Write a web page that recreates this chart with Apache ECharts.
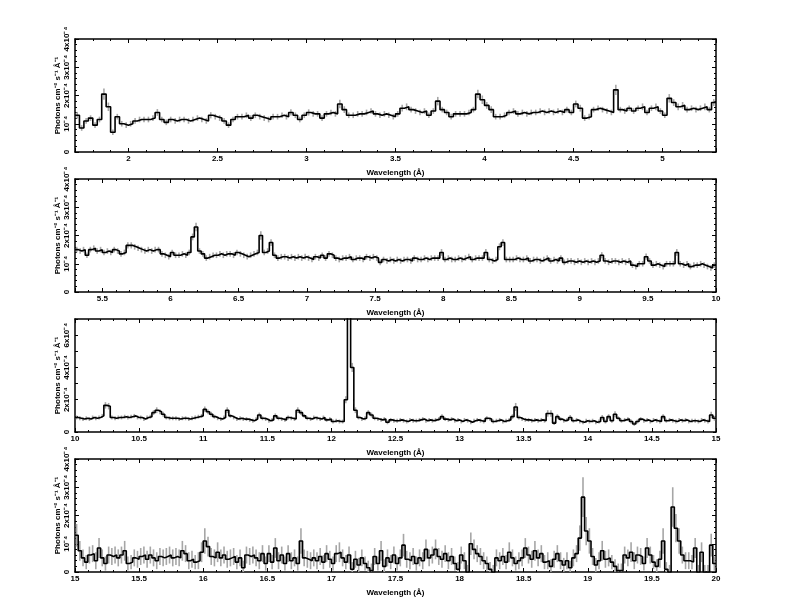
<!DOCTYPE html>
<html><head><meta charset="utf-8">
<script src="https://cdn.jsdelivr.net/npm/echarts@6/dist/echarts.min.js"></script>
<style>html,body{margin:0;padding:0;background:#fff}#c{width:792px;height:612px}</style>
</head><body><div id="c"></div>
<script>
// ---------------- DATA (flux in units of 1e-5 photons cm^-2 s^-1 Å^-1) ----------------
const binWidth = 0.025;
const xTitle = 'Wavelength (Å)';
const yTitle = 'Photons cm⁻² s⁻¹ Å⁻¹';

const p1Range = [1.7, 5.3];
const p1Flux = [
 13,8.5,11,12,9.5,11.5,20.5,16,7,12.5,10,9.5,
 10,11,11.5,11.5,11.5,12,14,11.5,10.5,11.5,11,11.5,
 11.5,11,11.5,12,11.5,11,13,12.5,12,11,9.5,11.5,
 12.5,12.5,13,12,13,12.5,12,11.5,12.5,12.5,13,12.5,
 14,13,11.5,13,14,13.5,13.5,12,13.5,14,13.5,17,
 15,13,13,13.5,13.5,14,14.5,13.5,13,13.5,13,12.5,
 13.5,15.5,16,15,14.5,14,14.5,13,14.5,18,15,14,
 12.5,13.5,13.5,13.5,14,15,20.5,18.5,16.5,15,12.5,12.5,
 13,14,14.5,13.5,14,13.5,14,14,14.5,14,14.5,14,
 14.5,14,15,14,17,15.5,12,12.5,15,15.5,15,14.5,
 14,22,15,14.5,15.5,14.5,15.5,16,14,15.5,16,14.5,
 13,19,17.5,16,16.5,15,15.5,15,15.5,16,15,17.5
];
const p1Err = [
 1.2,1,1,1,1,1,2,1.5,1,1,1,1,
 1,1,1,1,1,1,1.2,1,1,1,1,1,
 1,1,1,1,1,1,1.1,1,1,1,1,1,
 1,1,1,1,1,1,1,1,1,1,1,1,
 1.1,1,1,1,1.1,1,1,1,1,1,1,1.5,
 1.2,1,1,1,1,1,1,1,1,1,1,1,
 1,1.2,1.2,1,1,1,1,1,1,1.5,1,1,
 1,1,1,1,1,1,1.5,1.5,1.2,1.2,1,1,
 1,1,1,1,1,1,1,1,1,1,1,1,
 1,1,1,1,1.2,1.2,1,1,1,1,1,1,
 1,1.8,1,1,1,1,1,1.2,1,1,1.2,1,
 1,1.5,1.2,1.2,1.2,1,1,1,1,1.2,1,1.2
];

const p2Range = [5.3, 10];
const p2Flux = [
 15,14.5,15,13,15,15.5,14.5,15,14,14.5,
 14,15,14.5,13.5,14,16.5,16.5,16,15.5,15,
 14.5,15,14.5,15,15,13.5,13,12.5,14,13,
 13,13.5,13,14,19.5,23,14.5,13.5,12,12.5,
 13,13,13.5,13,13.5,13.5,13,14,13.5,13,
 12.5,13,13.5,14,20,14,14.5,17.5,13,12,
 12.5,12.5,12,12.5,12,12.5,12,12.5,12,11.5,
 12.5,12,13,12,13.5,13,12,11.5,12,12,
 12.5,11.5,12,12,11.5,12.5,12,12.5,12,10.5,
 11.5,11,11.5,11,11.5,11,11.5,11.5,11,12,
 11.5,11.5,12,11.5,12,12,12,14,11.5,12,
 11.5,11.5,12,11.5,12,12.5,11.5,12,12,12,
 14,11.5,11,11.5,16,17.5,11.5,11.5,11.5,12,
 11.5,11.5,12,11,11.5,11.5,11,11.5,12,11,
 11.5,11,12,10.5,11,11,10.5,11,10.5,11,
 10.5,11,10.5,11,13,11,10.5,11,11,10.5,
 11,10.5,11,9.5,9,10,10,12.5,11,9.5,
 10,9.5,9,10,10,10,14,10,9.5,10,
 9,9.5,9.5,10,9.5,9,8.5,9.5
];
const p2Err = [
 1,1,1,1,1,1,1,1,1,1,
 1,1,1,1,1,1.1,1.1,1,1,1,
 1,1,1,1,1,1,1,1,1,1,
 1,1,1,1,1.2,1.5,1,1,1,1,
 1,1,1,1,1,1,1,1,1,1,
 1,1,1,1,1.5,1,1,1.2,1,1,
 1,1,1,1,1,1,1,1,1,1,
 1,1,1,1,1,1,1,1,1,1,
 1,1,1,1,1,1,1,1,1,1,
 1,1,1,1,1,1,1,1,1,1,
 1,1,1,1,1,1,1,1.2,1,1,
 1,1,1,1,1,1,1,1,1,1,
 1.2,1,1,1,1.2,1.2,1,1,1,1,
 1,1,1,1,1,1,1,1,1,1,
 1,1,1,1,1,1,1,1,1,1,
 1,1,1,1,1.1,1,1,1,1,1,
 1,1,1,1,1,1,1,1.1,1,1,
 1,1,1,1,1,1,1.2,1,1,1,
 1,1,1,1,1,1,1,1
];

const p3Range = [10, 15];
const p3Flux = [
 9,8.5,8,8.5,8,9,8.5,9,10,16.5,
 16,9,8.5,9,9,9.5,9,9.5,10,9,
 9,8,9,9.5,12,13.5,12.5,11,9,8.5,
 8.5,8.5,8,8.5,8.5,8,8.5,9,9.5,10,
 14,12.5,11,9.5,8.5,8,9,13.5,10,9,
 8,8.5,8,8,7.5,7,8,10.5,8.5,8,
 7,7.5,10,8.5,8,7.5,9,8.5,8,13.5,
 12,10,8.5,8,9,8.5,8,9,7.5,8,
 6.5,7,6.5,6.5,20,80,40,13.5,9,8,
 8.5,12,10.5,8.5,8,7.5,8,6,7.5,7,
 7,7.5,7,6.5,7.5,7,7,7.5,8,7,
 7.5,7,7.5,8,9.5,8,7.5,8,7,7.5,
 6.5,7.5,7,6,7,7.5,7,6.5,8.5,8,
 6.5,7,7.5,6.5,7,7.5,9.5,15.5,9,8,
 7.5,7.5,7,7.5,7,7.5,7,11.5,11.5,5.5,
 9.5,8,7,7.5,9,7,7.5,6.5,6,7,
 6.5,7,6,6.5,9,6.5,9.5,7,11,8.5,
 7,7.5,8,6.5,5,6.5,8,7,7.5,6.5,
 7.5,7,6.5,9.5,7,7.5,7,6.5,7.5,7,
 7.5,6.5,7,7,6.5,7.5,7,6.5,10.5,8.5
];
const p3Err = [
 1.2,1.2,1.2,1.2,1.2,1.2,1.2,1.2,1.2,2,
 2,1.2,1.2,1.2,1.2,1.2,1.2,1.2,1.2,1.2,
 1.2,1.2,1.2,1.2,1.5,1.8,1.5,1.5,1.2,1.2,
 1.2,1.2,1.2,1.2,1.2,1.2,1.2,1.2,1.2,1.2,
 1.8,1.5,1.5,1.2,1.2,1.2,1.2,1.8,1.2,1.2,
 1.2,1.2,1.2,1.2,1.2,1.2,1.2,1.5,1.2,1.2,
 1.2,1.2,1.5,1.2,1.2,1.2,1.2,1.2,1.2,1.8,
 1.5,1.2,1.2,1.2,1.2,1.2,1.2,1.2,1.2,1.2,
 1.2,1.2,1.2,1.2,2.2,3.5,2.8,1.8,1.2,1.2,
 1.2,1.5,1.5,1.2,1.2,1.2,1.2,1.2,1.2,1.2,
 1.2,1.2,1.2,1.2,1.2,1.2,1.2,1.2,1.2,1.2,
 1.2,1.2,1.2,1.2,1.5,1.2,1.2,1.2,1.2,1.2,
 1.2,1.2,1.2,1.2,1.2,1.2,1.2,1.2,1.2,1.2,
 1.2,1.2,1.2,1.2,1.2,1.2,1.5,2.5,1.2,1.2,
 1.2,1.2,1.2,1.2,1.2,1.2,1.2,2,2,1.2,
 1.5,1.2,1.2,1.2,1.5,1.2,1.2,1.2,1.2,1.2,
 1.2,1.2,1.2,1.2,1.5,1.2,1.5,1.2,1.8,1.2,
 1.2,1.2,1.2,1.2,1.2,1.2,1.2,1.2,1.2,1.2,
 1.2,1.2,1.2,1.5,1.2,1.2,1.2,1.2,1.2,1.2,
 1.2,1.2,1.2,1.2,1.2,1.2,1.2,1.2,2,1.5
];

const p4Range = [15, 20];
const p4Flux = [
 13,7.5,5,3.5,6,6.5,4,8.5,5,3,
 6,5.5,6,5,6,7.5,3,3.5,5,4.5,
 5.5,6,4.5,6,5,4,5.5,5,5.5,6,
 5,5.5,5,7.5,6.5,4,4.5,3.5,4,7,
 11,9,5.5,5,7,5,6,4.5,5,5.5,
 3.5,5,1.5,6,5.5,6,5,4,6.5,3,
 6.5,3.5,8.5,4,6,3,6.5,4,5,3,
 11,5,4.5,4,5,4,5.5,3.5,6.5,4.5,
 3,6.5,7,5,3.5,6,1,4.5,2.5,5,
 3,1.5,0.5,5.5,3,7.5,2,5,3.5,6,
 3,5,9.5,4.5,4,5.5,3,5,4,8,
 5,6,8,5.5,4.5,6.5,4,5.5,3,1,
 6,4,0,10,8,6.5,5.5,4,3,1,
 0,5,4,5.5,3.5,7,5,3,4,5,
 8.5,6,4.5,7.5,5,6.5,3.5,4,2,4.5,
 6.5,4,2.5,4,1.5,5,6.5,12,26.5,14.5,
 11,5.5,2.5,4,7.5,4.5,5,3.5,2,0.5,
 0.5,6,5,7,4,6,5.5,3,8.5,6,
 3.5,2,4.5,11,1,0,23,15.5,11,6,
 4,4,3.5,8.5,0,7,0,0,9.5,3
];
const p4Err = [
 4,3.5,3,2.5,3,3,3,3.5,3,2.5,
 3,3,3,3,3,3.5,2.5,2.5,3,3,
 3,3,3,3,3,3,3,3,3,3,
 3,3,3,3.5,3,3,3,2.5,3,3.5,
 4.5,3.5,3,3,3.5,3,3,3,3,3,
 2.5,3,2.5,3,3,3,3,3,3,2.5,
 3,2.5,3.5,3,3,2.5,3,3,3,2.5,
 4.5,3,3,3,3,3,3,2.5,3,3,
 2.5,3,3.5,3,2.5,3,2.5,3,2.5,3,
 2.5,2.5,2.5,3,2.5,3.5,2.5,3,2.5,3,
 2.5,3,4,3,3,3,2.5,3,3,3.5,
 3,3,3.5,3,3,3,3,3,2.5,2.5,
 3,3,2.5,4,3.5,3,3,3,2.5,2.5,
 2.5,3,3,3,2.5,3.5,3,2.5,3,3,
 3.5,3,3,3.5,3,3,2.5,3,2.5,3,
 3,3,2.5,3,2.5,3,3,4.5,7,5,
 4.5,3,2.5,3,3.5,3,3,2.5,2.5,2.5,
 2.5,3,3,3.5,3,3,3,2.5,3.5,3,
 2.5,2.5,3,4.5,2.5,2.5,7,5,4.5,3,
 3,3,2.5,3.5,2.5,3.5,2.5,2.5,4,2.5
];

// y tick labels (value in 1e-5 units -> label)
const yLabels4 = {0:'0', 10:'10⁻⁴', 20:'2x10⁻⁴', 30:'3x10⁻⁴', 40:'4x10⁻⁴'};
const yLabels7 = {0:'0', 20:'2x10⁻⁴', 40:'4x10⁻⁴', 60:'6x10⁻⁴'};
const yMaxes = [40, 40, 70, 40];

// ---------------- LAYOUT / STYLE ----------------
const gridTops = [39, 179, 319, 459];
const gridLeft = 75, gridWidth = 641, gridHeight = 113;
const FONT = 'Liberation Sans';
const ERR_COLOR = '#a6a6a6';

const panels = [
  {range: p1Range, flux: p1Flux, err: p1Err, labels: yLabels4, minor: true},
  {range: p2Range, flux: p2Flux, err: p2Err, labels: yLabels4, minor: true},
  {range: p3Range, flux: p3Flux, err: p3Err, labels: yLabels7, minor: false},
  {range: p4Range, flux: p4Flux, err: p4Err, labels: yLabels4, minor: true}
];

const grid = [], xAxis = [], yAxis = [], series = [];
const axisLine = {show: true, lineStyle: {color: '#000', width: 1.5}};
const labelStyle = {color: '#000', fontFamily: FONT, fontSize: 8, fontWeight: 'bold'};

function xFmt(v) {
  const r = Math.round(v * 2) / 2;
  if (Math.abs(v - r) > 1e-6) return '';
  return String(+r.toFixed(1));
}

panels.forEach((p, g) => {
  const [xmin, xmax] = p.range;
  const yMax = yMaxes[g];
  grid.push({left: gridLeft, top: gridTops[g], width: gridWidth, height: gridHeight, containLabel: false});
  const split = Math.round((xmax - xmin) / 0.5);
  const base = {type: 'value', gridIndex: g, min: xmin, max: xmax, splitLine: {show: false}};
  xAxis.push(Object.assign({}, base, {
    position: 'bottom', splitNumber: split,
    axisLine: axisLine,
    axisTick: {show: true, inside: true, length: 4, lineStyle: {color: '#000', width: 1}},
    axisLabel: Object.assign({margin: 3, formatter: xFmt, showMinLabel: true, showMaxLabel: true}, labelStyle),
    name: xTitle, nameLocation: 'middle', nameGap: 17, nameMoveOverlap: false,
    nameTextStyle: Object.assign({}, labelStyle)
  }));
  xAxis.push(Object.assign({}, base, {
    position: 'bottom', interval: 0.1,
    axisLine: {show: false},
    axisTick: {show: true, inside: true, length: 2, lineStyle: {color: '#000', width: 1}},
    axisLabel: {show: false}
  }));
  xAxis.push(Object.assign({}, base, {
    position: 'top', splitNumber: split,
    axisLine: axisLine,
    axisTick: {show: true, inside: true, length: 4, lineStyle: {color: '#000', width: 1}},
    axisLabel: {show: false}
  }));
  xAxis.push(Object.assign({}, base, {
    position: 'top', interval: 0.1,
    axisLine: {show: false},
    axisTick: {show: true, inside: true, length: 2, lineStyle: {color: '#000', width: 1}},
    axisLabel: {show: false}
  }));

  const ybase = {type: 'value', gridIndex: g, min: 0, max: yMax, interval: 10, splitLine: {show: false},
    axisLine: axisLine,
    axisTick: {show: true, inside: true, length: p.minor ? 4 : 3, lineStyle: {color: '#000', width: 1}},
    minorTick: {show: p.minor, splitNumber: 5, length: 2, lineStyle: {color: '#000', width: 1}}};
  yAxis.push(Object.assign({}, ybase, {
    position: 'left',
    axisLabel: Object.assign({rotate: 90, margin: 4, showMinLabel: true, showMaxLabel: true,
      formatter: v => (p.labels[Math.round(v)] !== undefined && Math.abs(v - Math.round(v)) < 1e-6) ? p.labels[Math.round(v)] : ''}, labelStyle),
    name: yTitle, nameLocation: 'middle', nameRotate: 90, nameGap: 13, nameMoveOverlap: false,
    nameTextStyle: Object.assign({}, labelStyle)
  }));
  yAxis.push(Object.assign({}, ybase, {position: 'right', axisLabel: {show: false}}));

  const errData = p.flux.map((v, i) => [xmin + (i + 0.5) * binWidth, v - p.err[i], v + p.err[i]]);
  series.push({
    type: 'custom', xAxisIndex: 4 * g, yAxisIndex: 2 * g, clip: true, silent: true, z: 1,
    data: errData,
    renderItem: (params, api) => {
      const x = api.value(0);
      const lo = Math.max(0, api.value(1)), hi = Math.min(yMax, api.value(2));
      if (hi <= lo) return null;
      const a = api.coord([x, lo]), b = api.coord([x, hi]);
      return {type: 'line', shape: {x1: a[0], y1: a[1], x2: b[0], y2: b[1]},
        style: {stroke: ERR_COLOR, lineWidth: 1.6}};
    }
  });
  const stepData = p.flux.map((v, i) => [xmin + i * binWidth, v]);
  stepData.push([xmin + p.flux.length * binWidth, p.flux[p.flux.length - 1]]);
  series.push({
    type: 'line', xAxisIndex: 4 * g, yAxisIndex: 2 * g, step: 'end', data: stepData,
    showSymbol: false, symbol: 'none', clip: true, silent: true, z: 3,
    lineStyle: {color: '#000', width: 1.6}
  });
});

const chart = echarts.init(document.getElementById('c'), null, {renderer: 'canvas'});
chart.setOption({
  animation: false,
  backgroundColor: '#fff',
  textStyle: {fontFamily: FONT},
  grid, xAxis, yAxis, series
});
</script></body></html>
